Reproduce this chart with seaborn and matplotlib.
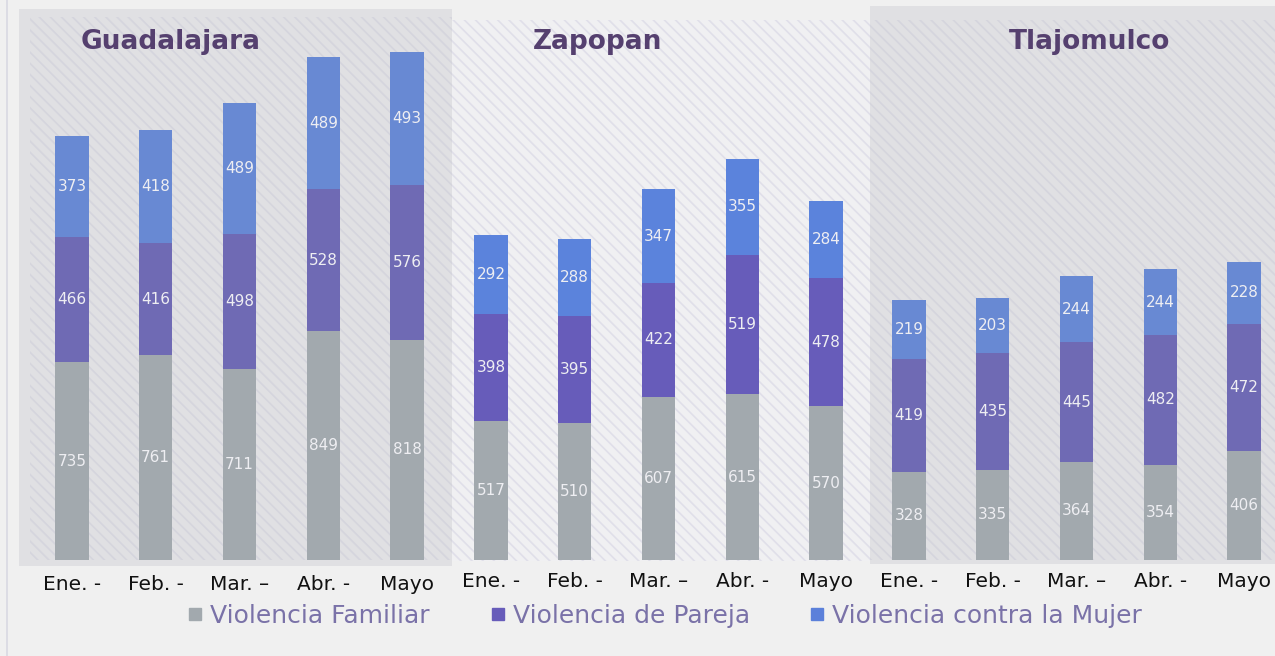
import numpy as np
import pandas as pd
import matplotlib.pyplot as plt
import seaborn as sns
from matplotlib.patches import Rectangle
from matplotlib.lines import Line2D

months = ["Ene. -", "Feb. -", "Mar. –", "Abr. -", "Mayo"]
cities = ["Guadalajara", "Zapopan", "Tlajomulco"]
series = ["Violencia Familiar", "Violencia de Pareja", "Violencia contra la Mujer"]

gdl_fam = [735, 761, 711, 849, 818]
gdl_par = [466, 416, 498, 528, 576]
gdl_muj = [373, 418, 489, 489, 493]
zap_fam = [517, 510, 607, 615, 570]
zap_par = [398, 395, 422, 519, 478]
zap_muj = [292, 288, 347, 355, 284]
tla_fam = [328, 335, 364, 354, 406]
tla_par = [419, 435, 445, 482, 472]
tla_muj = [219, 203, 244, 244, 228]

sns.set_theme(style="white")
plt.rcParams["font.family"] = ["DejaVu Sans"]
plt.rcParams["hatch.linewidth"] = 1.2

W, H = 1275, 656
fig = plt.figure(figsize=(W / 100, H / 100), dpi=100, facecolor="#f0f0f0")


def px_rect(x0, y0, x1, y1, **kw):
    # rectangle in pixel coords (y from top), drawn behind the axes
    r = Rectangle((x0 / W, 1 - y1 / H), (x1 - x0) / W, (y1 - y0) / H,
                  transform=fig.transFigure, figure=fig, zorder=-5, **kw)
    fig.patches.append(r)


# left border line
px_rect(6, 0, 8, H, facecolor="#dcdce4", linewidth=0)

# panel backgrounds
px_rect(19, 9, 452, 566, facecolor="#e0e0e3", linewidth=0)
px_rect(30, 17, 452, 560, facecolor="#e0e0e3", edgecolor="#d5d5dd", linewidth=0, hatch="\\\\\\")
px_rect(452, 20, 870, 561, facecolor="#f0f0f2", edgecolor="#e0dfe9", linewidth=0, hatch="\\\\\\")
px_rect(870, 6, 1275, 564, facecolor="#e0e0e3", linewidth=0)
px_rect(870, 20, 1275, 560, facecolor="#e0e0e3", edgecolor="#d5d5dd", linewidth=0, hatch="\\\\\\")

panels = [
    (cities[0], gdl_fam, gdl_par, gdl_muj, 30, "#6f6ab4", "#6889d3", 171, 11),
    (cities[1], zap_fam, zap_par, zap_muj, 449, "#675cba", "#5b83dc", 598, 8.5),
    (cities[2], tla_fam, tla_par, tla_muj, 867, "#6f6ab4", "#6889d3", 1090, 8.5),
]
gray = "#a2a9ae"
scale = 0.2693  # px per unit
top_px, base_px = 20, 560

for name, fam, par, muj, x0, c_par, c_muj, title_x, pad in panels:
    ax = fig.add_axes([x0 / W, 1 - base_px / H, 419 / W, (base_px - top_px) / H])
    ax.set_facecolor("none")
    df = pd.DataFrame({"mes": months, "fam": fam, "par": par, "muj": muj})
    df["s2"] = df["fam"] + df["par"]
    df["s3"] = df["s2"] + df["muj"]
    sns.barplot(data=df, x="mes", y="s3", color=c_muj, saturation=1, width=0.4, ax=ax, linewidth=0)
    sns.barplot(data=df, x="mes", y="s2", color=c_par, saturation=1, width=0.4, ax=ax, linewidth=0)
    sns.barplot(data=df, x="mes", y="fam", color=gray, saturation=1, width=0.4, ax=ax, linewidth=0)
    for i, row in df.iterrows():
        for bottom, v in [(0, row["fam"]), (row["fam"], row["par"]), (row["s2"], row["muj"])]:
            ax.text(i, bottom + v / 2, str(v), ha="center", va="center",
                    fontsize=11, color="#eeeef2")
    ax.set_xlim(-0.5, 4.5)
    ax.set_ylim(0, (base_px - top_px) / scale)
    ax.set_xlabel("")
    ax.set_ylabel("")
    ax.set_yticks([])
    ax.tick_params(axis="x", length=0, pad=pad, labelsize=14.5, labelcolor="#111111")
    for s in ax.spines.values():
        s.set_visible(False)
    fig.text(title_x / W, 1 - 42 / H, name, ha="center", va="center",
             fontsize=19, fontweight="bold", color="#55406f")

handles = [Line2D([], [], marker="s", linestyle="none", markersize=9, color=c)
           for c in [gray, "#675cba", "#5b80da"]]
leg = fig.legend(handles, series, loc="center", bbox_to_anchor=(665 / W, 1 - 616 / H),
                 ncol=3, frameon=False, fontsize=18, handlelength=0.6, handletextpad=0.3,
                 columnspacing=2.4)
for t in leg.get_texts():
    t.set_color("#7a72a8")

fig.savefig("out.png", dpi=100, facecolor=fig.get_facecolor())
